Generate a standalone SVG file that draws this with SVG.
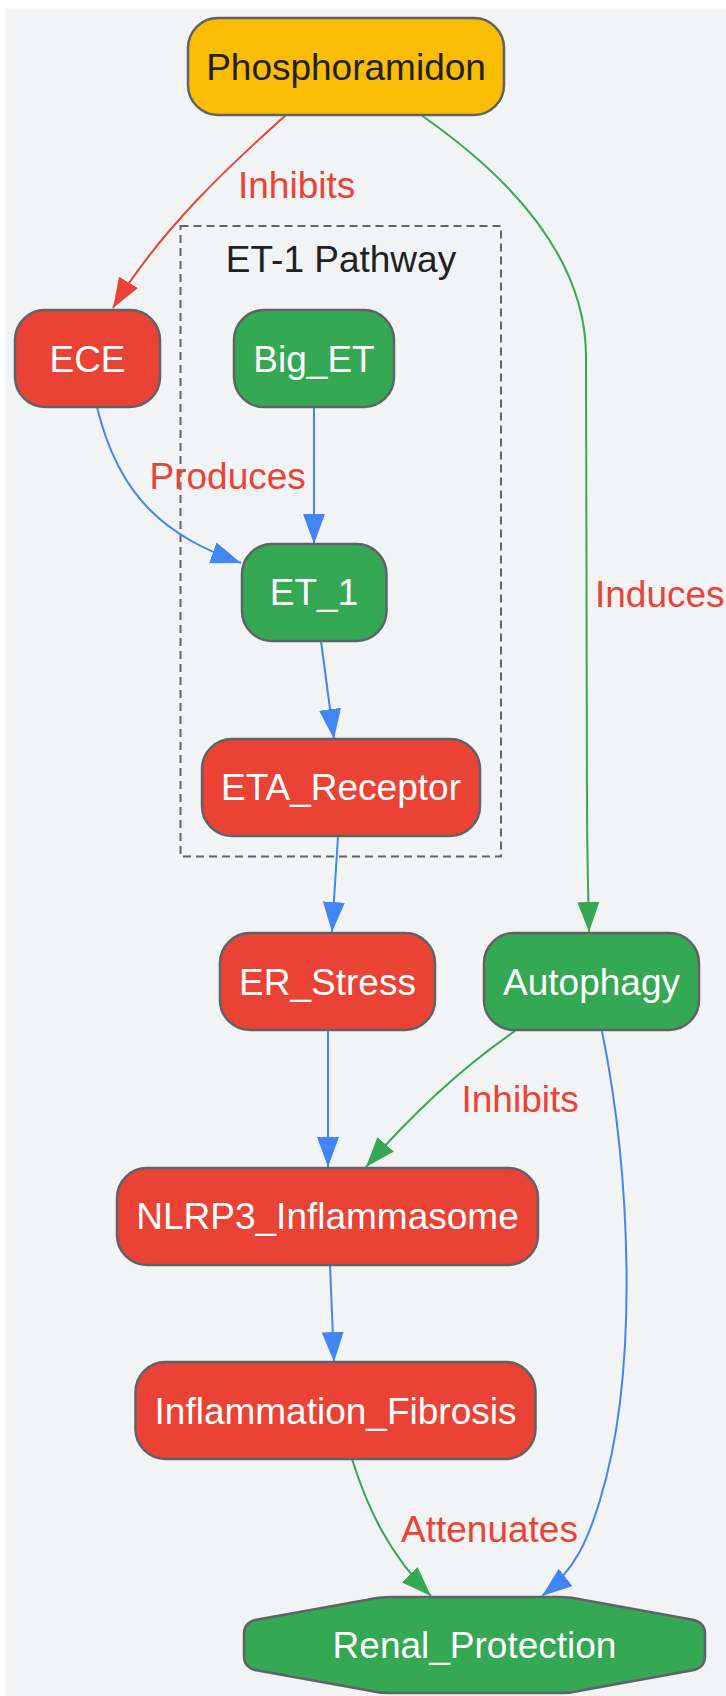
<svg xmlns="http://www.w3.org/2000/svg" width="726" height="1696" viewBox="0 0 726 1696">
<style>
.node{stroke:#5f6368;stroke-width:2.5}
.red{fill:#ea4335}.green{fill:#34a853}.yellow{fill:#fbbc04}
.t{font-family:"Liberation Sans",Arial,sans-serif;font-size:37px;text-anchor:middle}
.w{fill:#ffffff}.d{fill:#202124}
.lbl{font-family:"Liberation Sans",Arial,sans-serif;font-size:37px;fill:#ea4335}
.e{fill:none;stroke-width:2}
.eb{stroke:#4285f4}.eg{stroke:#34a853}.er{stroke:#ea4335}
</style>
<defs>
<marker id="ab" markerUnits="userSpaceOnUse" markerWidth="32" markerHeight="24" refX="30" refY="11" orient="auto"><path d="M0,0 L30,11 L0,22 Z" fill="#4285f4"/></marker>
<marker id="ag" markerUnits="userSpaceOnUse" markerWidth="32" markerHeight="24" refX="30" refY="11" orient="auto"><path d="M0,0 L30,11 L0,22 Z" fill="#34a853"/></marker>
<marker id="ar" markerUnits="userSpaceOnUse" markerWidth="32" markerHeight="24" refX="30" refY="11" orient="auto"><path d="M0,0 L30,11 L0,22 Z" fill="#ea4335"/></marker>
</defs>
<rect x="5" y="8.5" width="721" height="1687.5" fill="#f1f3f4"/>
<g id="cluster_et1">
<rect x="180.5" y="226" width="320.5" height="630.5" fill="none" stroke="#5f6368" stroke-width="2" stroke-dasharray="8,5"/>
<text class="t d" x="341" y="272">ET-1 Pathway</text>
</g>
<g id="edges">
<path class="e er" d="M286,115 C230,165 160,230 113,308" marker-end="url(#ar)"/>
<text class="lbl" x="238" y="198">Inhibits</text>
<path class="e eg" d="M421,115 C500,170 585,250 586,355 L587,800 C587,850 588,880 589,932" marker-end="url(#ag)"/>
<text class="lbl" x="595" y="607">Induces</text>
<path class="e eb" d="M97,407 C105,440 120,480 150,510 C175,535 205,550 241,563" marker-end="url(#ab)"/>
<text class="lbl" x="149.5" y="489">Produces</text>
<path class="e eb" d="M314,407 L314,544" marker-end="url(#ab)"/>
<path class="e eb" d="M321,641 L334,739" marker-end="url(#ab)"/>
<path class="e eb" d="M338,836 L332,932" marker-end="url(#ab)"/>
<path class="e eb" d="M328,1030 L328,1167" marker-end="url(#ab)"/>
<path class="e eg" d="M515,1031 C470,1062 420,1105 366,1167" marker-end="url(#ag)"/>
<text class="lbl" x="461.5" y="1112">Inhibits</text>
<path class="e eb" d="M330,1265 L334,1362" marker-end="url(#ab)"/>
<path class="e eb" d="M602,1031 C630,1170 640,1370 600,1500 C588,1540 575,1570 542,1596" marker-end="url(#ab)"/>
<text class="lbl" x="401" y="1542">Attenuates</text>
<path class="e eg" d="M352,1459 C368,1510 390,1555 431,1596" marker-end="url(#ag)"/>
</g>
<g id="Phosphoramidon"><rect class="node yellow" x="188" y="18" width="316" height="97" rx="30"/><text class="t d" x="346" y="80">Phosphoramidon</text></g>
<g id="ECE"><rect class="node red" x="15" y="310" width="145" height="97" rx="30"/><text class="t w" x="87.5" y="372">ECE</text></g>
<g id="Big_ET"><rect class="node green" x="234" y="310" width="160" height="97" rx="30"/><text class="t w" x="314" y="372">Big_ET</text></g>
<g id="ET_1"><rect class="node green" x="242" y="544" width="144.5" height="97" rx="30"/><text class="t w" x="314" y="605">ET_1</text></g>
<g id="ETA_Receptor"><rect class="node red" x="202" y="739" width="278" height="97" rx="30"/><text class="t w" x="341" y="800">ETA_Receptor</text></g>
<g id="ER_Stress"><rect class="node red" x="220" y="933" width="215" height="97" rx="30"/><text class="t w" x="327.5" y="995">ER_Stress</text></g>
<g id="Autophagy"><rect class="node green" x="484" y="933" width="215" height="97" rx="30"/><text class="t w" x="591.5" y="995">Autophagy</text></g>
<g id="NLRP3_Inflammasome"><rect class="node red" x="117" y="1168" width="421" height="97" rx="30"/><text class="t w" x="327.5" y="1229">NLRP3_Inflammasome</text></g>
<g id="Inflammation_Fibrosis"><rect class="node red" x="135.5" y="1362" width="400" height="97" rx="30"/><text class="t w" x="335.5" y="1424">Inflammation_Fibrosis</text></g>
<g id="Renal_Protection"><path class="node green" d="M390,1597 L560,1597 Q572,1597 584,1600 L694,1620 Q705,1623 705,1634 L705,1656 Q705,1667 694,1670 L584,1690 Q572,1693 560,1693 L390,1693 Q378,1693 366,1690 L255,1670 Q244,1667 244,1656 L244,1634 Q244,1623 255,1620 L366,1600 Q378,1597 390,1597 Z"/><text class="t w" x="474.5" y="1658">Renal_Protection</text></g>
</svg>
